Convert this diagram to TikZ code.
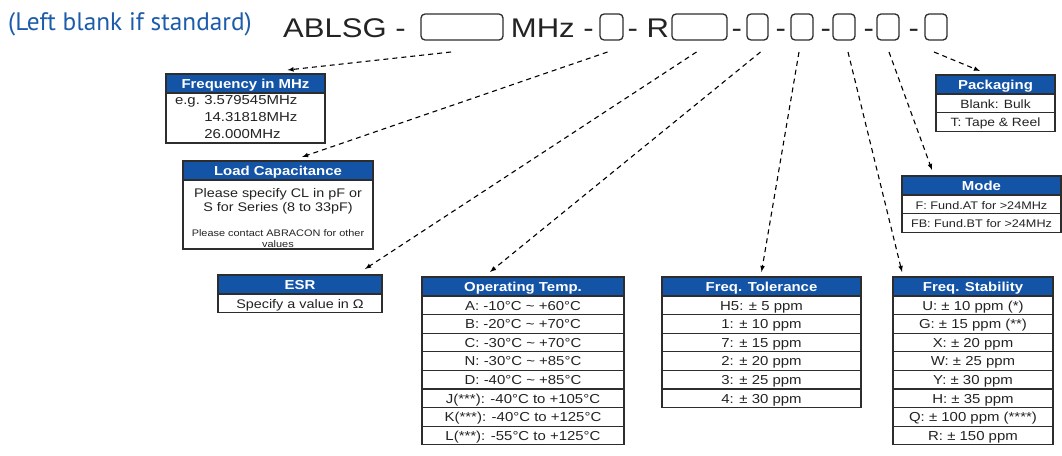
\documentclass[tikz,border=0pt]{standalone}
\usepackage{fontspec}
\setmainfont[FakeStretch=1.15]{Liberation Sans}
\newfontfamily\notefont{PT Sans}
\usetikzlibrary{positioning,calc}

\definecolor{hdblue}{RGB}{20,84,166}
\definecolor{noteblue}{RGB}{28,92,170}
\definecolor{edge}{RGB}{45,45,45}
\definecolor{ink}{RGB}{35,35,35}

\begin{document}
\begin{tikzpicture}[x=1pt,y=-1pt,
    hd/.style={draw=edge,line width=1.3,fill=hdblue,text=white,inner sep=0,outer sep=0,
      minimum height=19,text height=9.6,text depth=0,font=\fontsize{13}{15}\selectfont\bfseries},
    rw/.style={draw=edge,line width=1.3,fill=white,text=ink,inner sep=0,outer sep=0,
      minimum height=18.6,text height=9.6,text depth=0,font=\fontsize{13}{15}\selectfont},
    bx/.style={draw=edge,line width=1.3,fill=white,text=ink,inner sep=0,outer sep=0,align=center},
    slot/.style={draw=edge,line width=1.3,rounded corners=4,inner sep=0,outer sep=0,minimum height=26},
    code/.style={anchor=base west,inner sep=0,text=ink,font=\fontsize{27}{30}\selectfont},
    lead/.style={line width=1.1,dash pattern=on 5pt off 4pt,-latex}]

  \useasboundingbox (0,0) rectangle (1062,455);

  % Part number
  \node[anchor=base west,inner sep=0,text=noteblue,font=\notefont\fontsize{25.3}{28}\selectfont] (blank) at (8,30) {(Left blank if standard)};
  \node[code] (pn) at (283,37) {ABLSG -};
  \node[code] (mhz) at (510.7,37) {MHz -};
  \node[code] (r) at (627.5,37) {- R};
  \foreach \x [count=\i] in {731.5,775.5,820.5,863.5,908.5}
    \node[code] (dash\i) at (\x,37) {-};
  \foreach \n/\x/\w in {b1/462/82,b2/611.5/23,b3/699.5/55,b4/757.5/21,b5/802/22,b6/844/22,b7/888/22,b8/936/22}
    \node[slot,minimum width=\w] (\n) at (\x,27) {};

  % Frequency
  \node[hd,minimum width=159] (fq0) at (245.5,83.5) {Frequency in MHz};
  \node[bx,minimum width=159,minimum height=50,below=0pt of fq0,align=left,text width=141,
    font=\fontsize{13}{17}\selectfont] (fq1)
    {e.g.\ 3.579545MHz\\\phantom{e.g.\ }14.31818MHz\\\phantom{e.g.\ }26.000MHz};

  % Load capacitance
  \node[hd,minimum width=190] (ld0) at (278,170.5) {Load Capacitance};
  \node[bx,minimum width=190,minimum height=69,below=0pt of ld0,font=\fontsize{12.5}{14}\selectfont] (ld1)
    {\rule{0pt}{17pt}Please specify CL in pF or\\S for Series (8 to 33pF)\\[11pt]\fontsize{9.5}{11}\selectfont Please contact ABRACON for other\\[-3pt]\fontsize{9.5}{11}\selectfont values};

  % ESR
  \node[hd,minimum width=164] (esr0) at (300,284.5) {ESR};
  \node[rw,minimum width=164,below=0pt of esr0,font=\fontsize{12.5}{15}\selectfont] (esr1) {Specify a value in Ω};

  % Operating temp.
  \node[hd,minimum width=202] (op0) at (523,286.5) {Operating Temp.};
  \foreach \t [count=\i, remember=\i as \p (initially 0)] in
    {A: -10°C \textasciitilde{} +60°C, B: -20°C \textasciitilde{} +70°C, C: -30°C \textasciitilde{} +70°C,
     N: -30°C \textasciitilde{} +85°C, D: -40°C \textasciitilde{} +85°C, J(***): -40°C to +105°C,
     K(***): -40°C to +125°C, L(***): -55°C to +125°C}
    \node[rw,minimum width=202,below=0pt of op\p] (op\i) {\t};

  % Freq. tolerance
  \node[hd,minimum width=199] (tl0) at (761.5,286.5) {Freq. Tolerance};
  \foreach \t [count=\i, remember=\i as \p (initially 0)] in
    {H5: ± 5 ppm, 1: ± 10 ppm, 7: ± 15 ppm, 2: ± 20 ppm, 3: ± 25 ppm, 4: ± 30 ppm}
    \node[rw,minimum width=199,below=0pt of tl\p] (tl\i) {\t};

  % Freq. stability
  \node[hd,minimum width=160] (st0) at (973,286.5) {Freq. Stability};
  \foreach \t [count=\i, remember=\i as \p (initially 0)] in
    {U: ± 10 ppm (*), G: ± 15 ppm (**), X: ± 20 ppm, W: ± 25 ppm, Y: ± 30 ppm,
     H: ± 35 ppm, Q: ± 100 ppm (****), R: ± 150 ppm}
    \node[rw,minimum width=160,below=0pt of st\p] (st\i) {\t};

  % Mode
  \node[hd,minimum width=159] (md0) at (981.5,185.5) {Mode};
  \foreach \t [count=\i, remember=\i as \p (initially 0)] in
    {F: Fund.AT for >24MHz, FB: Fund.BT for >24MHz}
    \node[rw,minimum width=159,below=0pt of md\p,font=\fontsize{11}{13}\selectfont] (md\i) {\t};

  % Packaging
  \node[hd,minimum width=119] (pk0) at (995.5,84.5) {Packaging};
  \foreach \t [count=\i, remember=\i as \p (initially 0)] in
    {Blank: Bulk, T: Tape \& Reel}
    \node[rw,minimum width=119,below=0pt of pk\p,font=\fontsize{12}{14}\selectfont] (pk\i) {\t};

  % Leaders
  \foreach \s/\sx/\d/\dx/\dy in {b1/-11/fq0/42/-4,b2/-4/ld0/24/-4,b3/-3/esr0/65/-6,b4/3/op0/-33/-5,
      b5/-3/tl0/0/-5,b6/4/st0/-71/-5,b7/1/md0/-49.5/-6,b8/-2/pk0/-15.5/-4}
    \draw[lead] ($(\s.south)+(\sx,12)$) -- ($(\d.north)+(\dx,\dy)$);
\end{tikzpicture}
\end{document}
